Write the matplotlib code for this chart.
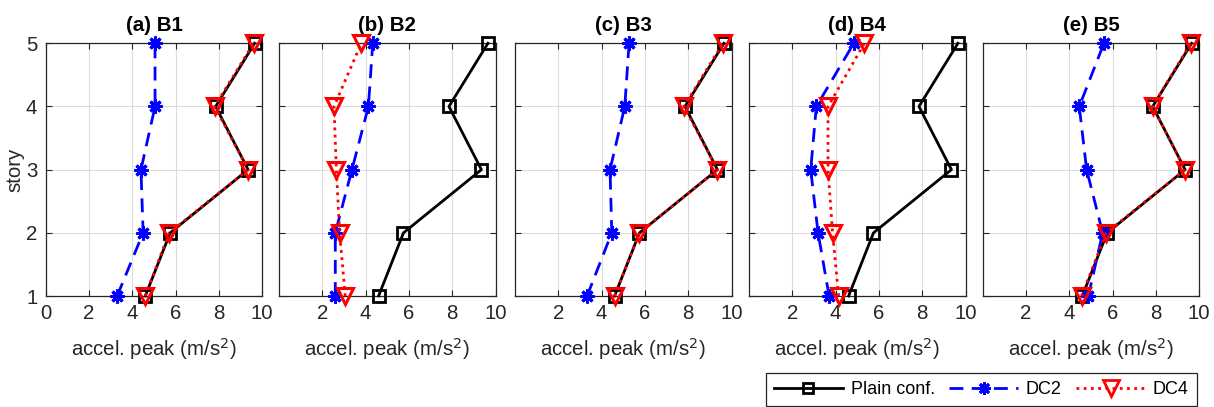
import matplotlib
matplotlib.use('Agg')
from matplotlib import pyplot as plt
from matplotlib.lines import Line2D

plt.rcParams['font.family'] = ['Liberation Sans', 'DejaVu Sans']

stories = [1, 2, 3, 4, 5]
titles = ['(a) B1', '(b) B2', '(c) B3', '(d) B4', '(e) B5']

# plain configuration is the same reference curve in every panel
plain = [4.6, 5.75, 9.35, 7.85, 9.65]

dc2 = [
    [3.3, 4.5, 4.4, 5.05, 5.05],
    [2.6, 2.6, 3.37, 4.13, 4.33],
    [3.33, 4.47, 4.39, 5.07, 5.27],
    [3.7, 3.19, 2.85, 3.11, 4.84],
    [4.88, 5.54, 4.8, 4.46, 5.6],
]
dc4 = [
    [4.6, 5.7, 9.35, 7.8, 9.6],
    [3.06, 2.8, 2.65, 2.54, 3.8],
    [4.6, 5.75, 9.35, 7.8, 9.6],
    [4.14, 3.86, 3.65, 3.65, 5.33],
    [4.57, 5.7, 9.35, 7.85, 9.6],
]

W, H = 1214, 407
fig = plt.figure(figsize=(W / 100, H / 100), dpi=100)

lefts = [45.7, 279, 515, 749, 982.7]
aw = 216.5
bottom = (H - 296) / H
height = (296 - 43.3) / H

txt = '#262626'
star = (8, 2, 0)
fs = 14.7

for i in range(5):
    ax = fig.add_axes([lefts[i] / W, bottom, aw / W, height])
    ax.plot(plain, stories, color='k', lw=2, marker='s', ms=8,
            mfc='none', mew=2, zorder=3, clip_on=False)
    ax.plot(dc2[i], stories, color='b', lw=2, ls=(0, (5, 3)), marker=star,
            ms=10, mew=2.2, zorder=4, clip_on=False)
    ax.plot(dc4[i], stories, color='r', lw=2, ls=(0, (1, 1.6)), marker='v',
            ms=12, mfc='none', mew=2.2, zorder=5, clip_on=False)
    ax.set_xlim(0, 10)
    ax.set_ylim(1, 5)
    ax.set_yticks(stories)
    if i == 0:
        ax.set_xticks([0, 2, 4, 6, 8, 10])
        ax.set_ylabel('story', fontsize=fs, color=txt, labelpad=1)
    else:
        ax.set_xticks([2, 4, 6, 8, 10])
        ax.set_yticklabels([])
    ax.grid(True, color='#dcdcdc', lw=0.8)
    ax.set_axisbelow(True)
    ax.tick_params(direction='in', labelsize=fs, colors=txt, length=4,
                   top=True, right=True, pad=6)
    for s in ax.spines.values():
        s.set_color(txt)
        s.set_linewidth(0.9)
    ax.set_xlabel('accel. peak (m/s$^2$)', fontsize=fs, color=txt, labelpad=9)
    ax.set_title(titles[i], fontsize=14.8, fontweight='bold', pad=9)

handles = [
    Line2D([], [], color='k', lw=2, marker='s', ms=7, mfc='none', mew=2),
    Line2D([], [], color='b', lw=2, ls=(0, (5, 3)), marker=star, ms=9, mew=2),
    Line2D([], [], color='r', lw=2, ls=(0, (1, 1.6)), marker='v', ms=12,
           mfc='none', mew=2),
]
leg = fig.legend(handles, ['Plain conf.', 'DC2', 'DC4'], ncol=3,
                 loc='lower right', bbox_to_anchor=(1197 / W, 1 / H),
                 borderaxespad=0, fontsize=13, handlelength=3.8,
                 columnspacing=0.8, handletextpad=0.45, borderpad=0.45,
                 fancybox=False, framealpha=1)
leg.get_frame().set_edgecolor('#262626')
leg.get_frame().set_linewidth(0.9)

fig.savefig('out.png', dpi=100)
